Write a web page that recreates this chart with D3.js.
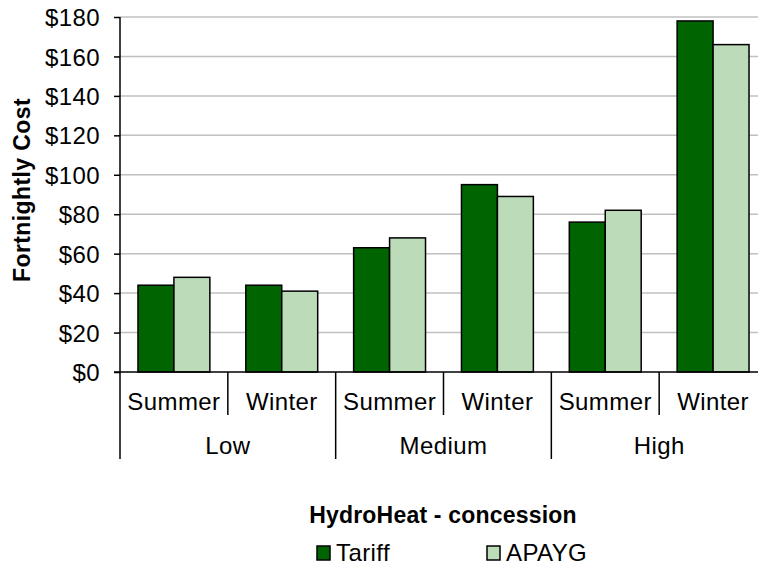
<!DOCTYPE html>
<html>
<head>
<meta charset="utf-8">
<script src="https://cdn.jsdelivr.net/npm/d3@7"></script>
<style>
  body { margin: 0; background: #fff; }
  text { font-family: Arial, "Liberation Sans", sans-serif; fill: #000; }
</style>
</head>
<body>
<div id="chart"></div>
<script>
// chart values
var groups = ["Low", "Medium", "High"];
var seasons = ["Summer", "Winter"];
var series = ["Tariff", "APAYG"];
var tariff = [44, 44, 63, 95, 76, 178];
var apayg = [48, 41, 68, 89, 82, 166];
var yTicks = [0, 20, 40, 60, 80, 100, 120, 140, 160, 180];
var colors = ["#006400", "#bcdcb9"];

var W = 758, H = 567;
// note: "top" is taken by window.top, so use plot* names
var plotLeft = 120, plotRight = 767, plotTop = 17, plotBottom = 372;

// one entry per category (group x season)
var cats = [];
groups.forEach(function (g) {
    seasons.forEach(function (s) { cats.push({ group: g, season: s, key: g + "|" + s }); });
});
cats.forEach(function (c, i) { c.values = [tariff[i], apayg[i]]; });

var svg = d3.select("#chart").append("svg")
    .attr("width", W)
    .attr("height", H);

var x = d3.scaleBand().domain(cats.map(function (d) { return d.key; })).range([plotLeft, plotRight]);
var xg = d3.scaleBand().domain(groups).range([plotLeft, plotRight]);
var xs = d3.scaleBand().domain(series).range([0, x.bandwidth()]).paddingInner(0).paddingOuter(0.5);
var y = d3.scaleLinear().domain([0, 180]).range([plotBottom, plotTop]);

// gridlines
svg.append("g")
    .selectAll("line")
    .data(yTicks.slice(1))
    .enter().append("line")
    .attr("x1", plotLeft).attr("x2", plotRight)
    .attr("y1", function (d) { return y(d); })
    .attr("y2", function (d) { return y(d); })
    .attr("stroke", "#c0c0c0")
    .attr("stroke-width", 1.5);

// bars
var cat = svg.selectAll(".cat")
    .data(cats)
    .enter().append("g")
    .attr("class", "cat")
    .attr("transform", function (d) { return "translate(" + x(d.key) + ",0)"; });

cat.selectAll("rect")
    .data(function (d) { return d.values.map(function (v, i) { return { s: series[i], v: v, i: i }; }); })
    .enter().append("rect")
    .attr("x", function (d) { return xs(d.s); })
    .attr("width", xs.bandwidth())
    .attr("y", function (d) { return y(d.v); })
    .attr("height", function (d) { return y(0) - y(d.v); })
    .attr("fill", function (d) { return colors[d.i]; })
    .attr("stroke", "#000")
    .attr("stroke-width", 1.5);

// y axis
var yAxis = d3.axisLeft(y)
    .tickValues(yTicks)
    .tickSize(6)
    .tickFormat(function (d) { return "$" + d; });

var ya = svg.append("g")
    .attr("transform", "translate(" + plotLeft + ",0)")
    .call(yAxis);
ya.select(".domain").attr("stroke", "#000").attr("stroke-width", 1.5).attr("d", "M0," + plotTop + "V" + plotBottom);
ya.selectAll(".tick line").attr("stroke", "#000").attr("stroke-width", 1.5);
ya.selectAll(".tick text")
    .attr("x", -20)
    .attr("dy", "0.36em")
    .style("font-size", "24px")
    .style("letter-spacing", "0.4px")
    .style("font-family", "Arial, 'Liberation Sans', sans-serif");

// x axis line
svg.append("line")
    .attr("x1", plotLeft - 6).attr("x2", plotRight)
    .attr("y1", plotBottom).attr("y2", plotBottom)
    .attr("stroke", "#000").attr("stroke-width", 1.5);

// separators: short between seasons, long between groups
var bounds = x.domain().map(function (k) { return x(k); }).concat([plotRight]);
svg.append("g")
    .selectAll("line")
    .data(bounds)
    .enter().append("line")
    .attr("x1", function (d) { return d; })
    .attr("x2", function (d) { return d; })
    .attr("y1", plotBottom)
    .attr("y2", function (d, i) { return i % 2 === 0 ? 459 : 415; })
    .attr("stroke", "#000")
    .attr("stroke-width", 1.5);

// season labels
svg.append("g")
    .selectAll("text")
    .data(cats)
    .enter().append("text")
    .attr("x", function (d) { return x(d.key) + x.bandwidth() / 2; })
    .attr("y", 410)
    .attr("text-anchor", "middle")
    .style("font-size", "24px")
    .style("letter-spacing", "0.4px")
    .text(function (d) { return d.season; });

// group labels
svg.append("g")
    .selectAll("text")
    .data(groups)
    .enter().append("text")
    .attr("x", function (d) { return xg(d) + xg.bandwidth() / 2; })
    .attr("y", 454)
    .attr("text-anchor", "middle")
    .style("font-size", "24px")
    .style("letter-spacing", "0.4px")
    .text(function (d) { return d; });

// y title
svg.append("text")
    .attr("transform", "translate(30,190) rotate(-90)")
    .attr("text-anchor", "middle")
    .style("font-size", "23px")
    .style("font-weight", "bold")
    .style("letter-spacing", "0.4px")
    .text("Fortnightly Cost");

// legend
svg.append("text")
    .attr("x", 443)
    .attr("y", 523)
    .attr("text-anchor", "middle")
    .style("font-size", "23px")
    .style("font-weight", "bold")
    .style("letter-spacing", "0.2px")
    .text("HydroHeat - concession");

var legendX = [317, 487];
var leg = svg.selectAll(".leg")
    .data(series)
    .enter().append("g")
    .attr("class", "leg")
    .attr("transform", function (d, i) { return "translate(" + legendX[i] + ",546)"; });

leg.append("rect")
    .attr("width", 13).attr("height", 14)
    .attr("fill", function (d, i) { return colors[i]; })
    .attr("stroke", "#000")
    .attr("stroke-width", 1.5);

leg.append("text")
    .attr("x", 19)
    .attr("y", 15)
    .style("font-size", "24px")
    .style("letter-spacing", "0.4px")
    .text(function (d) { return d; });
</script>
</body>
</html>
